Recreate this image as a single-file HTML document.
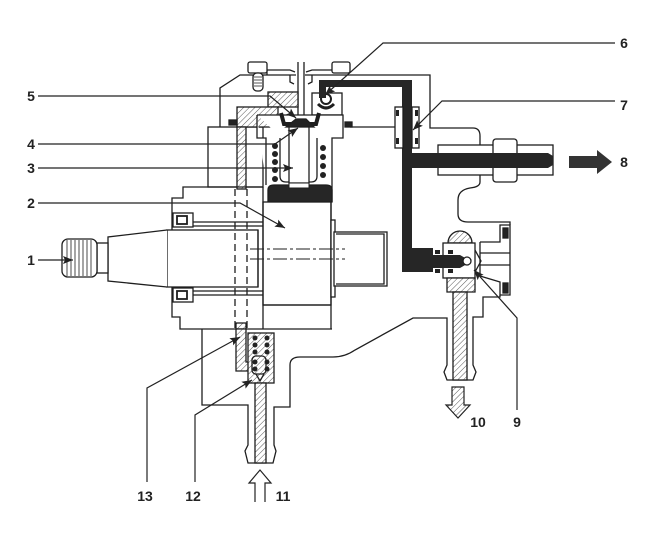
<!DOCTYPE html>
<html><head><meta charset="utf-8"><style>
html,body{margin:0;padding:0;background:#fff;}
svg{display:block}
text{font-family:"Liberation Sans",sans-serif;font-weight:bold;font-size:14px;fill:#222}
</style></head><body>
<svg width="648" height="533" viewBox="0 0 648 533" xmlns="http://www.w3.org/2000/svg">
<defs>
<pattern id="h" width="4" height="4" patternUnits="userSpaceOnUse" patternTransform="rotate(45)">
<rect width="4" height="4" fill="#fff"/>
<line x1="0" y1="0" x2="0" y2="4" stroke="#444" stroke-width="0.9"/>
</pattern>
<marker id="a" viewBox="0 0 10 8" refX="10" refY="4" markerWidth="10" markerHeight="8" orient="auto" markerUnits="userSpaceOnUse">
<path d="M0,0 L10,4 L0,8 L2,4 Z" fill="#222"/>
</marker>
</defs>

<g stroke="#1e1e1e" stroke-width="1.3" fill="none">
<!-- upper cover -->
<path d="M220,127 V88 L240,75 H296 M305,75 H430 V128 H473 Q480,128 480,136 V145" />
<path d="M267,75 V70 H290 L295,72 M306,72 L312,70 H332" />
<rect x="248" y="62" width="19" height="11" rx="2" fill="#fff"/>
<rect x="332" y="62" width="18" height="11" rx="2" fill="#fff"/>
<rect x="253" y="73" width="10" height="18" rx="4" fill="#fff"/>
<path d="M254,77 H262 M254,80 H262 M254,83 H262 M254,86 H262" stroke-width="0.8"/>
<path d="M298,62 V116 M304,62 V116"/>
<path d="M290,75 V82 L294,84 M312,75 V82 L308,84"/>

<!-- left block + hatched pieces -->
<rect x="208" y="127" width="55" height="60" fill="#fff"/>
<rect x="268" y="92" width="30" height="15" fill="url(#h)"/>
<rect x="237" y="107" width="41" height="20" fill="url(#h)"/>
<rect x="237" y="127" width="9" height="62" fill="url(#h)"/>
<rect x="229" y="120" width="8" height="5" fill="#222"/>
<rect x="345" y="122" width="7" height="5" fill="#222"/>

<!-- ball valve 6 box -->
<rect x="312" y="93" width="30" height="22" fill="#fff"/>
<circle cx="326" cy="99" r="5" stroke-width="2"/>
<path d="M318,104 Q326,112 334,104" stroke-width="3"/>

<!-- plunger head / spring chamber -->
<path d="M257,115 H343 V138 H332 V185 M257,115 V138 H266 V185" fill="#fff"/>
<path d="M332,185 V202"/>
<path d="M280,138 V176 Q280,182 286,182 H311 Q317,182 317,176 V138"/>
<path d="M281,113 L284,124 H316 L319,113" stroke-width="4"/>
<path d="M286,127 L296,119 H306 L314,127 Z" fill="#222"/>
<rect x="289" y="127" width="20" height="56" fill="#fff"/>
<g fill="#222" stroke="none">
<circle cx="275" cy="146" r="3"/><circle cx="275" cy="154" r="3"/><circle cx="275" cy="162" r="3"/><circle cx="275" cy="170" r="3"/><circle cx="275" cy="179" r="3"/>
<circle cx="323" cy="148" r="3"/><circle cx="323" cy="157" r="3"/><circle cx="323" cy="166" r="3"/><circle cx="323" cy="175" r="3"/>
</g>
<path d="M268,202 V190 Q268,185 274,185 H326 Q332,185 332,190 V202 Z" fill="#262626"/>
<rect x="289" y="183" width="20" height="5" fill="#fff" stroke-width="1"/>

<!-- cam housing -->
<path d="M263,187 H183 V198 H172 V317 H180 V329 H332"/>
<rect x="263" y="202" width="68" height="103" fill="#fff"/>
<path d="M263,187 V329 M331,202 V329 M263,305 H331"/>
<rect x="331" y="220" width="4" height="77" fill="#fff"/>
<rect x="334" y="232" width="53" height="54" fill="#fff"/>
<path d="M336,234 H384 V284 H336"/>
<path d="M193,222 H263 M193,226 H263 M193,291 H263 M193,295 H263"/>
<rect x="173" y="213" width="20" height="14" fill="#fff"/>
<rect x="177" y="216" width="10" height="8" stroke-width="1.8"/>
<rect x="173" y="288" width="20" height="14" fill="#fff"/>
<rect x="177" y="291" width="10" height="8" stroke-width="1.8"/>
<rect x="167" y="230" width="91" height="57" fill="#fff"/>
<path d="M258,230 V287" />
<path d="M167,230 L108,237 V281 L167,287" fill="#fff"/>
<rect x="97" y="243" width="11" height="30" fill="#fff"/>
<rect x="62" y="239" width="35" height="38" rx="6" fill="#fff"/>
<path d="M67,240 V276 M71,240 V276 M75,240 V276 M79,240 V276 M83,240 V276 M87,240 V276 M91,240 V276" stroke-width="0.8"/>
<path d="M235,189 V329 M247,189 V329" stroke-dasharray="7,4"/>
<rect x="236" y="323" width="10" height="6" fill="url(#h)"/>
<path d="M250,249 H345 M250,259 H345" stroke-width="1" stroke-dasharray="14,3,3,3"/>

<!-- lower body -->
<path d="M202,329 V405 H248 V445 L245,451 L248,463 H273 L276,451 L274,445 V407 H290 V365 Q290,357 300,357 H333 Q345,357 355,350 L413,318 H447 V365 L444,372 L447,380 H473 L476,372 L473,365 V317 H483 V297 H500 V295"/>
<path d="M236,329 H246 V362 H249 V371 H236 Z" fill="url(#h)"/>
<rect x="248" y="333" width="26" height="50" fill="url(#h)"/>
<rect x="252" y="356" width="14" height="18" rx="4" fill="url(#h)"/>
<g fill="#222" stroke="none">
<circle cx="255" cy="338" r="2.5"/><circle cx="267" cy="338" r="2.5"/><circle cx="255" cy="345" r="2.5"/><circle cx="267" cy="345" r="2.5"/><circle cx="255" cy="352" r="2.5"/><circle cx="267" cy="352" r="2.5"/><circle cx="255" cy="362" r="2.5"/><circle cx="267" cy="362" r="2.5"/><circle cx="255" cy="369" r="2.5"/><circle cx="267" cy="369" r="2.5"/>
</g>
<path d="M256,374 L260,381 L264,374"/>
<rect x="255" y="383" width="11" height="80" fill="url(#h)"/>

<!-- right side fittings -->
<path d="M350,127 H395"/>
<rect x="438" y="145" width="115" height="30" fill="#fff"/>
<rect x="493" y="139" width="24" height="43" rx="3" fill="#fff"/>
<path d="M480,175 V182 Q480,187 470,188 Q458,190 458,200 V214 Q458,222 468,222 H510 V225"/>
<path d="M480,242 H500 V225 H510 V295 H500 V282 L480,276 M480,242 V276 M480,253 H510 M480,265 H510"/>
<rect x="503" y="228" width="5" height="10" fill="#222"/>
<rect x="503" y="283" width="5" height="10" fill="#222"/>
<path d="M448,243 A12,12 0 0 1 472,243 Z" fill="url(#h)"/>
<rect x="443" y="243" width="32" height="35" fill="#fff"/>
<path d="M447,278 H475 V292 H447 Z" fill="url(#h)"/>
<rect x="453" y="292" width="14" height="88" fill="url(#h)"/>
<path d="M475,250 L481,261 L475,272"/>

<!-- rail -->
<path d="M319,80 H412 V248 H433 V255 H460 L467,259 V264 L460,268 H433 V272 H402 V87 H326 V98 H319 Z" fill="#262626" stroke="none"/>
<path d="M412,153 H548 L553,156 V165 L548,168 H412 Z" fill="#262626" stroke="none"/>
<circle cx="467" cy="261" r="4" fill="#fff"/>
<g fill="#222" stroke="none">
<rect x="435" y="250" width="5" height="4"/><rect x="448" y="250" width="5" height="4"/>
<rect x="435" y="269" width="5" height="4"/><rect x="448" y="269" width="5" height="4"/>
</g>
<rect x="395" y="107" width="8" height="41" fill="#fff"/>
<rect x="412" y="107" width="7" height="41" fill="#fff"/>
<g fill="#222" stroke="none">
<rect x="396" y="110" width="3" height="6"/><rect x="396" y="138" width="3" height="6"/>
<rect x="415" y="110" width="3" height="6"/><rect x="415" y="138" width="3" height="6"/>
</g>
</g>

<!-- leader lines -->
<g stroke="#222" stroke-width="1.2" fill="none">
<path d="M38,96 H270 L296,118" marker-end="url(#a)"/>
<path d="M38,144 H275 L298,128" marker-end="url(#a)"/>
<path d="M38,168 H293" marker-end="url(#a)"/>
<path d="M38,203 H240 L285,228" marker-end="url(#a)"/>
<path d="M38,260 H73" marker-end="url(#a)"/>
<path d="M615,43 H383 L325,95" marker-end="url(#a)"/>
<path d="M615,101 H442 L413,130" marker-end="url(#a)"/>
<path d="M517,410 V318 L474,270" marker-end="url(#a)"/>
<path d="M195,482 V415 L252,380" marker-end="url(#a)"/>
<path d="M147,482 V388 L240,337" marker-end="url(#a)"/>
</g>

<!-- flow arrows -->
<path d="M569,156 H597 V150 L612,162 L597,174 V168 H569 Z" fill="#333"/>
<path d="M452,387 H464 V405 H470 L458,418 L446,405 H452 Z" fill="url(#h)" stroke="#222" stroke-width="1.2"/>
<path d="M255,502 V483 H249 L260,470 L271,483 H265 V502" fill="#fff" stroke="#222" stroke-width="1.2"/>

<!-- labels -->
<text x="31" y="101" text-anchor="middle">5</text>
<text x="31" y="149" text-anchor="middle">4</text>
<text x="31" y="173" text-anchor="middle">3</text>
<text x="31" y="208" text-anchor="middle">2</text>
<text x="31" y="265" text-anchor="middle">1</text>
<text x="624" y="48" text-anchor="middle">6</text>
<text x="624" y="110" text-anchor="middle">7</text>
<text x="624" y="167" text-anchor="middle">8</text>
<text x="517" y="427" text-anchor="middle">9</text>
<text x="478" y="427" text-anchor="middle">10</text>
<text x="283" y="501" text-anchor="middle">11</text>
<text x="193" y="501" text-anchor="middle">12</text>
<text x="145" y="501" text-anchor="middle">13</text>
</svg>
</body></html>
